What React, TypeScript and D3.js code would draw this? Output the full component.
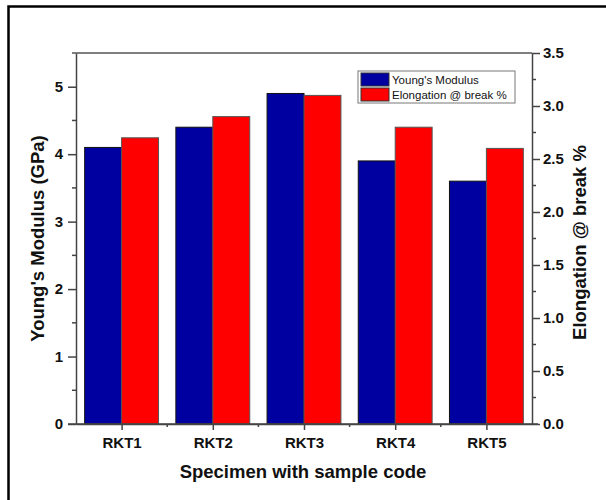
import React, { useEffect, useRef } from 'react';
import * as d3 from 'd3';

const categories = ['RKT1', 'RKT2', 'RKT3', 'RKT4', 'RKT5'];
const youngsModulus = [4.1, 4.4, 4.9, 3.9, 3.6];
const elongation = [2.7, 2.9, 3.1, 2.8, 2.6];
const leftTicks = [0, 1, 2, 3, 4, 5];
const rightTicks = [0, 0.5, 1.0, 1.5, 2.0, 2.5, 3.0, 3.5];

const App = () => {
  const svgRef = useRef<SVGSVGElement>(null);

  useEffect(() => {
    const width = 606;
    const height = 500;
    const margin = { top: 53, right: 74, bottom: 76, left: 76 };
    const innerW = width - margin.left - margin.right;
    const innerH = height - margin.top - margin.bottom;
    const font = 'Arial, "Liberation Sans", sans-serif';

    const svg = d3.select(svgRef.current);
    svg.selectAll('*').remove();

    // outer frame (only left + top visible in the reference)
    svg.append('path')
      .attr('d', `M8.5,${height}V6.5H${width}`)
      .attr('fill', 'none')
      .attr('stroke', '#000')
      .attr('stroke-width', 2.5);

    const g = svg.append('g').attr('transform', `translate(${margin.left},${margin.top})`);

    // x positions: categories at 1..5, axis from 0.5 to 5.5
    const x = d3.scaleLinear().domain([0.5, 5.5]).range([0, innerW]);
    const yL = d3.scaleLinear().domain([0, 5.5]).range([innerH, 0]);
    const yR = d3.scaleLinear().domain([0, 3.5]).range([innerH, 0]);
    const step = x(2) - x(1);
    const barW = step * 0.405;

    // bars
    categories.forEach((c, i) => {
      const cx = x(i + 1);
      g.append('rect')
        .attr('x', cx - barW)
        .attr('y', yL(youngsModulus[i]))
        .attr('width', barW)
        .attr('height', innerH - yL(youngsModulus[i]))
        .attr('fill', '#0000a0')
        .attr('stroke', '#111')
        .attr('stroke-width', 1);
      g.append('rect')
        .attr('x', cx)
        .attr('y', yR(elongation[i]))
        .attr('width', barW)
        .attr('height', innerH - yR(elongation[i]))
        .attr('fill', '#ff0000')
        .attr('stroke', '#555')
        .attr('stroke-width', 1);
    });

    const axisColor = '#444';
    const tickFont = 15;

    // top line
    g.append('line')
      .attr('x1', -4).attr('x2', innerW)
      .attr('y1', 0).attr('y2', 0)
      .attr('stroke', '#555').attr('stroke-width', 1.5);

    // left axis
    const left = g.append('g')
      .call(d3.axisLeft(yL).tickValues(leftTicks).tickFormat(d3.format('d')).tickSize(8).tickSizeOuter(0));
    left.select('.domain').attr('stroke', axisColor).attr('stroke-width', 1.5);
    left.selectAll('line').attr('stroke', axisColor).attr('stroke-width', 1.5);
    left.selectAll('text')
      .attr('x', -13)
      .attr('font-family', font).attr('font-weight', 'bold').attr('font-size', tickFont).attr('fill', '#111');
    g.append('g').selectAll('line')
      .data(d3.range(0.5, 5.5, 1))
      .join('line')
      .attr('x1', -4).attr('x2', 0)
      .attr('y1', (d) => yL(d)).attr('y2', (d) => yL(d))
      .attr('stroke', axisColor).attr('stroke-width', 1.5);

    // right axis
    const right = g.append('g')
      .attr('transform', `translate(${innerW},0)`)
      .call(d3.axisRight(yR).tickValues(rightTicks).tickFormat(d3.format('.1f')).tickSize(8).tickSizeOuter(0));
    right.select('.domain').attr('stroke', axisColor).attr('stroke-width', 1.5);
    right.selectAll('line').attr('stroke', axisColor).attr('stroke-width', 1.5);
    right.selectAll('text')
      .attr('font-family', font).attr('font-weight', 'bold').attr('font-size', tickFont).attr('fill', '#111');
    g.append('g').selectAll('line')
      .data(d3.range(0.25, 3.5, 0.5))
      .join('line')
      .attr('x1', innerW).attr('x2', innerW + 4)
      .attr('y1', (d) => yR(d)).attr('y2', (d) => yR(d))
      .attr('stroke', axisColor).attr('stroke-width', 1.5);

    // bottom axis
    const bottom = g.append('g')
      .attr('transform', `translate(0,${innerH})`)
      .call(d3.axisBottom(x).tickValues(d3.range(1, 6)).tickFormat((d) => categories[(d as number) - 1]).tickSize(6).tickSizeOuter(0));
    bottom.select('.domain').attr('stroke', axisColor).attr('stroke-width', 1.5);
    bottom.selectAll('line').attr('stroke', axisColor).attr('stroke-width', 1.5);
    bottom.selectAll('text')
      .attr('y', 24).attr('dy', 0)
      .attr('font-family', font).attr('font-weight', 'bold').attr('font-size', tickFont).attr('fill', '#111');
    g.append('line')
      .attr('x1', -8).attr('x2', innerW + 6)
      .attr('y1', innerH).attr('y2', innerH)
      .attr('stroke', axisColor).attr('stroke-width', 1.5);
    g.append('g').selectAll('line')
      .data(d3.range(1.5, 5.5, 1))
      .join('line')
      .attr('x1', (d) => x(d)).attr('x2', (d) => x(d))
      .attr('y1', innerH).attr('y2', innerH + 3)
      .attr('stroke', axisColor).attr('stroke-width', 1.5);

    // axis titles
    const titleFont = 18.5;
    svg.append('text')
      .attr('transform', `translate(44,${margin.top + innerH / 2}) rotate(-90)`)
      .attr('text-anchor', 'middle')
      .attr('font-family', font).attr('font-weight', 'bold').attr('font-size', titleFont).attr('fill', '#111')
      .text("Young's Modulus (GPa)");
    svg.append('text')
      .attr('transform', `translate(586,${margin.top + innerH / 2 + 4}) rotate(-90)`)
      .attr('text-anchor', 'middle')
      .attr('font-family', font).attr('font-weight', 'bold').attr('font-size', titleFont).attr('fill', '#111')
      .text('Elongation @ break %');
    svg.append('text')
      .attr('x', margin.left + innerW / 2 - 1)
      .attr('y', 478)
      .attr('text-anchor', 'middle')
      .attr('font-family', font).attr('font-weight', 'bold').attr('font-size', titleFont).attr('fill', '#111')
      .text('Specimen with sample code');

    // legend
    const legend = svg.append('g').attr('transform', 'translate(358,71)');
    legend.append('rect')
      .attr('width', 157).attr('height', 32)
      .attr('fill', '#fff').attr('stroke', '#777').attr('stroke-width', 1);
    const items = [
      { label: "Young's Modulus", color: '#0000a0' },
      { label: 'Elongation @ break %', color: '#ff0000' },
    ];
    items.forEach((it, i) => {
      legend.append('rect')
        .attr('x', 3).attr('y', 2 + i * 15)
        .attr('width', 28).attr('height', 13)
        .attr('fill', it.color).attr('stroke', '#333').attr('stroke-width', 1);
      legend.append('text')
        .attr('x', 34).attr('y', 13 + i * 15)
        .attr('font-family', font).attr('font-size', 11.5).attr('fill', '#111')
        .text(it.label);
    });
  }, []);

  return (
    <svg
      ref={svgRef}
      width={606}
      height={500}
      style={{ position: 'absolute', left: 0, top: 0, background: '#fff' }}
    />
  );
};

export default App;
